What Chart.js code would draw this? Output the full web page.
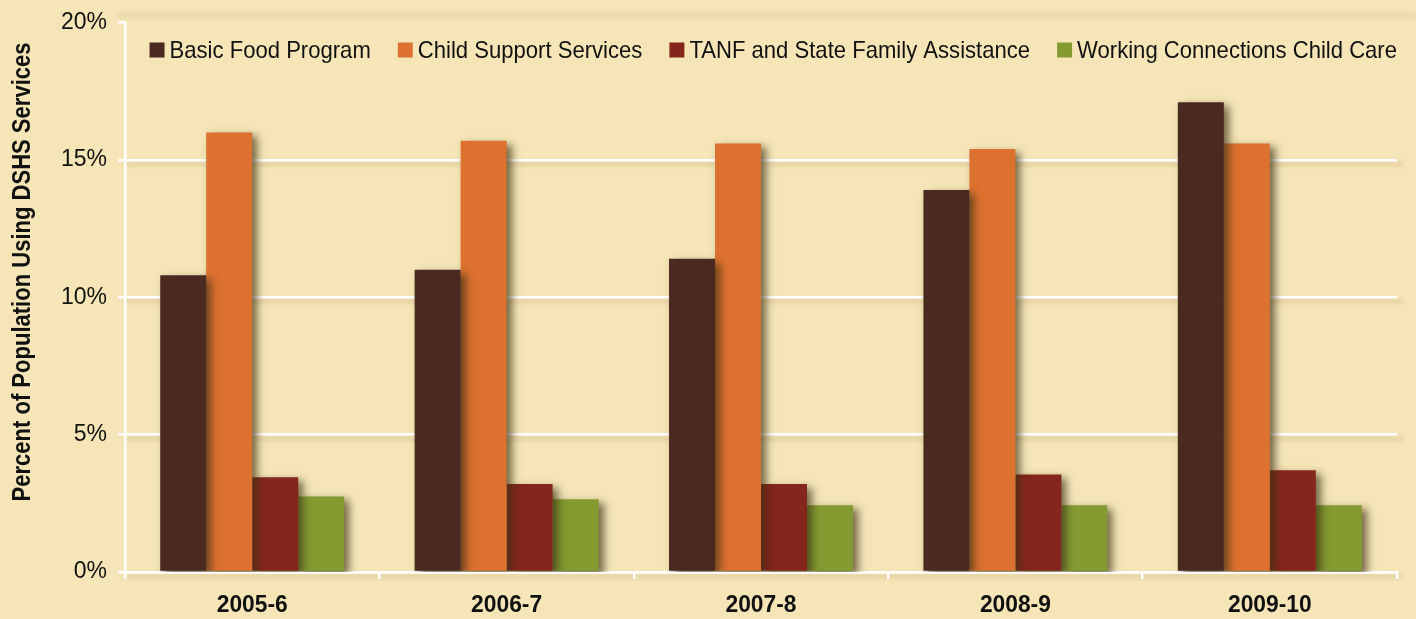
<!DOCTYPE html>
<html>
<head>
<meta charset="utf-8">
<script src="https://cdn.jsdelivr.net/npm/chart.js@4.4.1/dist/chart.umd.min.js"></script>
<style>
  html, body { margin: 0; padding: 0; background: #F5E5B7; }
  #wrap { width: 1416px; height: 619px; }
</style>
</head>
<body>
<div id="wrap"><canvas id="c" width="1416" height="619"></canvas></div>
<script>
// School years on the category axis
const years = ['2005-6', '2006-7', '2007-8', '2008-9', '2009-10'];

// Share of population using each DSHS service, in percent
const basicFood      = [10.8, 11.0, 11.4, 13.9, 17.1];
const childSupport   = [16.0, 15.7, 15.6, 15.4, 15.6];
const tanf           = [3.45, 3.2, 3.2, 3.55, 3.7];
const childCare      = [2.75, 2.65, 2.43, 2.43, 2.43];

const seriesNames = [
  'Basic Food Program',
  'Child Support Services',
  'TANF and State Family Assistance',
  'Working Connections Child Care'
];
const seriesColors = ['#4A2920', '#DD7130', '#84261B', '#849B32'];

// Value axis
const yMax = 20;
const yStep = 5;
const yTitle = 'Percent of Population Using DSHS Services';

const SANS = '"Liberation Sans", Arial, sans-serif';
const BG = '#F5E5B7';

// Draws text squeezed horizontally by factor sx, anchored by alignment
function narrowText(ctx, text, x, y, sx, align) {
  ctx.save();
  ctx.translate(x, y);
  ctx.scale(sx, 1);
  ctx.textAlign = align;
  ctx.fillText(text, 0, 0);
  ctx.restore();
}

// Background fill plus soft shadows under the white gridlines
const backdrop = {
  id: 'backdrop',
  beforeDraw(chart) {
    const { ctx, chartArea, scales } = chart;
    ctx.save();
    ctx.fillStyle = BG;
    ctx.fillRect(0, 0, chart.width, chart.height);
    ctx.strokeStyle = 'rgba(170,140,80,0.30)';
    ctx.lineWidth = 3;
    ctx.filter = 'blur(2px)';
    for (let v = 0; v < yMax; v += yStep) {
      const y = scales.y.getPixelForValue(v) + 4;
      ctx.beginPath();
      ctx.moveTo(chartArea.left, y);
      ctx.lineTo(chartArea.right + 6, y);
      ctx.stroke();
    }
    // faint band along the top edge of the plot
    ctx.strokeStyle = 'rgba(170,140,80,0.22)';
    const yt = scales.y.getPixelForValue(yMax) - 7;
    ctx.beginPath();
    ctx.moveTo(chartArea.left - 8, yt);
    ctx.lineTo(chart.width, yt);
    ctx.stroke();
    ctx.restore();
  }
};

// Drop shadow on the bars
const barShadow = {
  id: 'barShadow',
  beforeDatasetsDraw(chart) {
    const ctx = chart.ctx;
    ctx.save();
    ctx.shadowColor = 'rgba(60,50,20,0.7)';
    ctx.shadowBlur = 8;
    ctx.shadowOffsetX = 5;
    ctx.shadowOffsetY = 4;
  },
  afterDatasetsDraw(chart) {
    chart.ctx.restore();
  }
};

// Condensed texts: legend row inside the plot, category labels, axis title
const texts = {
  id: 'texts',
  afterDraw(chart) {
    const { ctx, chartArea, scales } = chart;
    ctx.save();
    ctx.fillStyle = '#111';
    ctx.textBaseline = 'middle';

    // legend, right-aligned to the plot edge
    const sx = 0.92, box = 15, boxGap = 5, itemGap = 27, cy = 50;
    ctx.font = '24px ' + SANS;
    const items = chart.data.datasets.map(ds => ({
      label: ds.label, color: ds.backgroundColor,
      w: ctx.measureText(ds.label).width * sx
    }));
    const total = items.reduce((s, it) => s + box + boxGap + it.w, 0) + itemGap * (items.length - 1);
    let x = chartArea.right - total;
    items.forEach(it => {
      ctx.fillStyle = it.color;
      ctx.fillRect(x, cy - box / 2, box, box);
      x += box + boxGap;
      ctx.fillStyle = '#111';
      narrowText(ctx, it.label, x, cy + 1, sx, 'left');
      x += it.w + itemGap;
    });

    // category labels
    ctx.font = 'bold 24px ' + SANS;
    scales.x.ticks.forEach((t, i) => {
      const px = scales.x.getPixelForTick(i);
      narrowText(ctx, chart.data.labels[i], px, 605, 0.95, 'center');
    });

    // rotated value-axis title
    ctx.font = 'bold 25px ' + SANS;
    const w = ctx.measureText(yTitle).width;
    ctx.save();
    ctx.translate(23, 272);
    ctx.rotate(-Math.PI / 2);
    narrowText(ctx, yTitle, 0, 0, 459 / w, 'center');
    ctx.restore();

    ctx.restore();
  }
};

const values = [basicFood, childSupport, tanf, childCare];

new Chart(document.getElementById('c'), {
  type: 'bar',
  data: {
    labels: years,
    datasets: values.map((arr, i) => ({
      label: seriesNames[i],
      data: arr,
      backgroundColor: seriesColors[i],
      borderWidth: 0,
      barPercentage: 1.0,
      categoryPercentage: 0.723
    }))
  },
  options: {
    responsive: false,
    animation: false,
    layout: { padding: { top: -1, right: 19, bottom: 0, left: 0 } },
    plugins: {
      legend: { display: false },
      tooltip: { enabled: false }
    },
    scales: {
      x: {
        grid: {
          offset: true,
          drawOnChartArea: false,
          drawTicks: true,
          tickLength: 7,
          color: '#FFFFFF',
          lineWidth: 2.5
        },
        border: { color: '#FFFFFF', width: 2.5 },
        ticks: {
          color: 'rgba(0,0,0,0)',
          font: { family: SANS, size: 24, weight: 'bold' },
          padding: 10
        },
        afterFit(scale) { scale.height = 47; }
      },
      y: {
        min: 0,
        max: yMax,
        ticks: {
          stepSize: yStep,
          color: '#111',
          font: { family: SANS, size: 23, lineHeight: 1.0 },
          padding: 11,
          callback: v => v + '%'
        },
        grid: {
          color: c => (c.tick && c.tick.value === yMax) ? 'rgba(0,0,0,0)' : '#FFFFFF',
          tickColor: '#FFFFFF',
          lineWidth: 2.5,
          tickLength: 7
        },
        border: { color: '#FFFFFF', width: 2.5 },
        afterFit(scale) { scale.width = 125; }
      }
    }
  },
  plugins: [backdrop, barShadow, texts]
});
</script>
</body>
</html>
